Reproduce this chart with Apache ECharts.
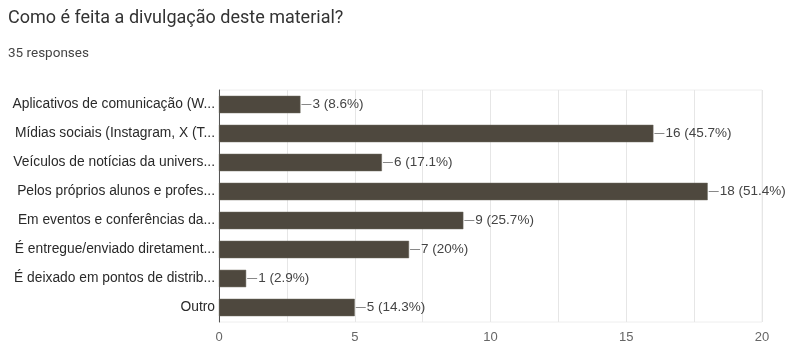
<!DOCTYPE html>
<html>
<head>
<meta charset="utf-8">
<script src="https://cdn.jsdelivr.net/npm/echarts@6/dist/echarts.min.js"></script>
<style>
  html, body { margin: 0; padding: 0; background: #fff; }
  #chart { width: 790px; height: 342px; }
</style>
</head>
<body>
<div id="chart"></div>
<script>
// categorias (texto já truncado como no original)
var categorias = [
  'Aplicativos de comunicação (W...',
  'Mídias sociais (Instagram, X (T...',
  'Veículos de notícias da univers...',
  'Pelos próprios alunos e profes...',
  'Em eventos e conferências da...',
  'É entregue/enviado diretament...',
  'É deixado em pontos de distrib...',
  'Outro'
];
var respostas = [3, 16, 6, 18, 9, 7, 1, 5];
var percentuais = ['8.6%', '45.7%', '17.1%', '51.4%', '25.7%', '20%', '2.9%', '14.3%'];
var ticks = [0, 5, 10, 15, 20];

(function() {
	var chart = echarts.init(document.getElementById('chart'));

	var option = {
		animation: false,
		title: [{
			text: 'Como é feita a divulgação deste material?',
			left: 8, top: 9, padding: 0,
			textStyle: { fontFamily: 'Roboto', fontSize: 18, fontWeight: 'normal', color: '#333' }
		}, {
			text: '35 responses',
			left: 8, top: 47, padding: 0,
			textStyle: { fontFamily: 'Roboto', fontSize: 13.5, fontWeight: 'normal', color: '#444' }
		}],
		grid: {
			left: 219, right: 28, top: 90, bottom: 20,
			outerBoundsMode: 'none',
			containLabel: false,
			show: true,
			borderColor: '#eee',
			borderWidth: 1
		},
		xAxis: {
			type: 'value',
			min: 0, max: 20, interval: 2.5,
			axisLine: { show: false },
			axisTick: { show: false },
			splitLine: { lineStyle: { color: '#e6e6e6' } },
			axisLabel: {
				fontFamily: 'Liberation Sans', fontSize: 13, color: '#666', margin: 9,
				formatter: function(v) { return ticks.indexOf(v) >= 0 ? String(v) : ''; }
			}
		},
		yAxis: {
			type: 'category',
			inverse: true,
			data: categorias,
			axisLine: { lineStyle: { color: '#555', width: 1 } },
			axisTick: { show: false },
			axisLabel: { fontFamily: 'Liberation Sans', fontSize: 13.8, color: '#2a2a2a', margin: 4 }
		},
		series: [{
			type: 'bar',
			data: respostas,
			barWidth: '60%',
			itemStyle: { color: '#4e483e', borderColor: '#6b665c', borderWidth: 0.5 },
			label: {
				show: true,
				position: 'right',
				distance: 1,
				formatter: function(p) {
					return '{l|}{t|' + p.value + ' (' + percentuais[p.dataIndex] + ')}';
				},
				rich: {
					l: { width: 10, height: 1, backgroundColor: '#888' },
					t: { fontFamily: 'Liberation Sans', fontSize: 13.5, color: '#444', padding: [0, 0, 0, 1] }
				}
			}
		}]
	};

	chart.setOption(option);
})();
</script>
</body>
</html>
